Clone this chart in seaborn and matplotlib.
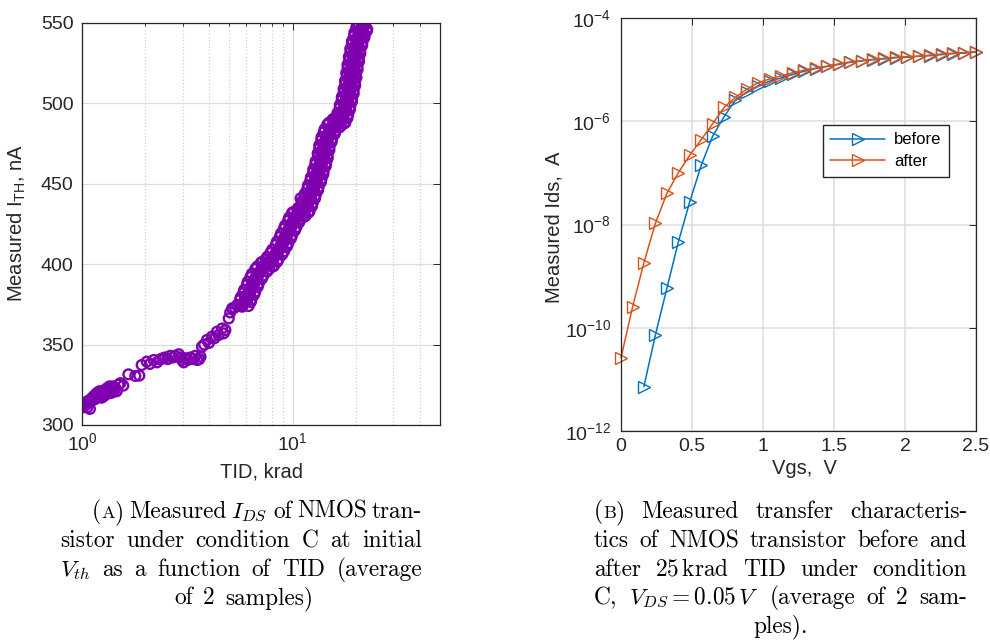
import numpy as np
import pandas as pd
import matplotlib
matplotlib.use("Agg")
import matplotlib.pyplot as plt
from matplotlib.ticker import FixedLocator, NullLocator, NullFormatter, FuncFormatter
from matplotlib.transforms import IdentityTransform
import seaborn as sns

# ---------------- data: panel (A) ----------------
tid_krad = [
    # low-dose cluster
    1.00, 1.01, 1.02, 1.03, 1.04, 1.05, 1.06, 1.07, 1.08, 1.09, 1.10, 1.11, 1.12, 1.13, 1.14,
    1.15, 1.16, 1.17, 1.18, 1.19, 1.20, 1.21, 1.22, 1.23, 1.24, 1.25, 1.26, 1.27, 1.28, 1.29,
    1.30, 1.31, 1.32, 1.33, 1.34, 1.35, 1.36, 1.37, 1.38, 1.39, 1.40, 1.42, 1.44, 1.46,
    # sparse part
    1.49, 1.52, 1.57, 1.66, 1.79, 1.87, 1.92, 2.03, 2.10, 2.19, 2.27, 2.35, 2.42, 2.48, 2.55,
    2.62, 2.70, 2.77, 2.88, 2.93, 2.98, 3.04, 3.09, 3.18, 3.27, 3.36, 3.45, 3.52, 3.60, 3.65,
    3.71, 3.80, 3.92, 4.00, 4.14, 4.25, 4.37, 4.45, 4.62, 4.70, 4.79, 4.97, 5.05, 5.16, 5.30,
    5.45, 5.60, 5.76, 10.90, 11.00,
    # dense part (main rows)
    5.63, 5.77, 5.90, 6.03, 6.17,
    5.83, 5.97, 6.10, 6.23, 6.37,
    6.06, 6.21, 6.35, 6.49, 6.64,
    6.30, 6.45, 6.60, 6.75, 6.90,
    6.64, 6.80, 6.95, 7.10, 7.26,
    7.07, 7.24, 7.40, 7.56, 7.73,
    7.45, 7.63, 7.80, 7.97, 8.15,
    7.83, 8.02, 8.20, 8.38, 8.57,
    8.31, 8.51, 8.70, 8.89, 9.09,
    8.69, 8.90, 9.10, 9.30, 9.51,
    9.07, 9.29, 9.50, 9.71, 9.93,
    9.50, 9.73, 9.95, 10.17, 10.40,
    9.93, 10.17, 10.40, 10.63, 10.87,
    10.51, 10.76, 11.00, 11.24, 11.50,
    10.98, 11.25, 11.50, 11.75, 12.02,
    11.36, 11.64, 11.90, 12.16, 12.44,
    11.75, 12.03, 12.30, 12.57, 12.85,
    12.13, 12.42, 12.70, 12.98, 13.27,
    12.51, 12.81, 13.10, 13.39, 13.69,
    12.80, 13.11, 13.40, 13.69, 14.00,
    13.18, 13.50, 13.80, 14.10, 14.42,
    13.37, 13.69, 14.00, 14.31, 14.63,
    13.66, 13.99, 14.30, 14.61, 14.94,
    14.04, 14.38, 14.70, 15.02, 15.36,
    14.61, 14.96, 15.30, 15.64, 15.99,
    15.47, 15.84, 16.20, 16.56, 16.93,
    16.24, 16.63, 17.00, 17.37, 17.77,
    16.71, 17.12, 17.50, 17.89, 18.29,
    17.09, 17.51, 17.90, 18.29, 18.71,
    17.48, 17.90, 18.30, 18.70, 19.12,
    17.76, 18.19, 18.60, 19.01, 19.44,
    18.05, 18.48, 18.90, 19.32, 19.75,
    18.24, 18.68, 19.10, 19.52, 19.96,
    18.53, 18.97, 19.40, 19.83, 20.27,
    18.81, 19.27, 19.70, 20.13, 20.59,
    19.10, 19.56, 20.00, 20.44, 20.90,
    19.58, 20.05, 20.50, 20.95, 21.42,
    20.06, 20.54, 21.00, 21.46, 21.95,
    20.63, 21.12, 21.60, 22.08, 22.57,
    # dense part (in-between rows)
    5.67, 5.91, 6.09, 6.33,
    5.88, 6.13, 6.31, 6.56,
    6.11, 6.37, 6.57, 6.83,
    6.40, 6.67, 6.87, 7.14,
    6.78, 7.06, 7.28, 7.56,
    7.18, 7.49, 7.71, 8.02,
    7.56, 7.88, 8.12, 8.44,
    7.99, 8.32, 8.58, 8.91,
    8.41, 8.77, 9.03, 9.39,
    8.79, 9.16, 9.44, 9.81,
    9.19, 9.57, 9.87, 10.25,
    9.61, 10.02, 10.32, 10.73,
    10.11, 10.54, 10.86, 11.29,
    10.63, 11.08, 11.42, 11.87,
    11.06, 11.52, 11.88, 12.34,
    11.43, 11.92, 12.28, 12.77,
    11.81, 12.31, 12.69, 13.19,
    12.19, 12.71, 13.09, 13.61,
    12.52, 13.05, 13.45, 13.98,
    12.85, 13.40, 13.80, 14.35,
    13.14, 13.69, 14.11, 14.66,
    13.37, 13.94, 14.36, 14.93,
    13.70, 14.28, 14.72, 15.30,
    14.18, 14.78, 15.23, 15.83,
    14.88, 15.51, 15.99, 16.62,
    15.69, 16.35, 16.85, 17.51,
    16.30, 16.99, 17.51, 18.20,
    16.73, 17.43, 17.97, 18.67,
    17.10, 17.83, 18.37, 19.10,
    17.44, 18.17, 18.73, 19.46,
    17.72, 18.47, 19.03, 19.78,
    17.96, 18.72, 19.29, 20.05,
    18.19, 18.96, 19.54, 20.31,
    18.47, 19.26, 19.84, 20.63,
    18.76, 19.55, 20.15, 20.94,
    19.14, 19.95, 20.55, 21.36,
    19.61, 20.44, 21.06, 21.89,
    20.13, 20.98, 21.62, 22.47,
]
ith_na = [
    312, 311, 313, 312, 314, 313, 311, 315, 314, 310, 316, 315, 317, 316, 318,
    316, 319, 317, 320, 318, 319, 321, 318, 320, 317, 319, 321, 318, 320, 322,
    319, 321, 323, 320, 322, 324, 321, 323, 320, 322, 324, 321, 323, 321,
    325, 326, 324.5, 331.5, 330.5, 330.7, 337.3, 339.4, 338, 340.4, 339, 340.8, 341.5, 342, 341,
    343, 342, 343, 344, 342, 340.4, 339, 341.5, 340.5, 342, 341, 343, 340.4, 341, 342.5,
    348.7, 350, 352.9, 351, 355, 354, 358, 356, 360, 357, 359, 366.3, 370, 372.5, 373,
    374.6, 374, 373.6, 441, 437,
    378, 375, 376, 377, 374,
    382, 379, 380, 381, 378,
    387, 384, 385, 386, 383,
    392, 389, 390, 391, 388,
    397, 394, 395, 396, 393,
    401, 398, 399, 400, 397,
    403, 400, 401, 402, 399,
    407, 404, 405, 406, 403,
    412, 409, 410, 411, 408,
    417, 414, 415, 416, 413,
    422, 419, 420, 421, 418,
    427, 424, 425, 426, 423,
    432, 429, 430, 431, 428,
    434, 431, 432, 433, 430,
    437, 434, 435, 436, 433,
    442, 439, 440, 441, 438,
    447, 444, 445, 446, 443,
    452, 449, 450, 451, 448,
    457, 454, 455, 456, 453,
    462, 459, 460, 461, 458,
    467, 464, 465, 466, 463,
    472, 469, 470, 471, 468,
    477, 474, 475, 476, 473,
    482, 479, 480, 481, 478,
    487, 484, 485, 486, 483,
    490, 487, 488, 489, 486,
    492, 489, 490, 491, 488,
    497, 494, 495, 496, 493,
    502, 499, 500, 501, 498,
    507, 504, 505, 506, 503,
    512, 509, 510, 511, 508,
    517, 514, 515, 516, 513,
    522, 519, 520, 521, 518,
    527, 524, 525, 526, 523,
    532, 529, 530, 531, 528,
    537, 534, 535, 536, 533,
    542, 539, 540, 541, 538,
    547, 544, 545, 546, 543,
    549, 547, 548, 549, 546,
    379.5, 377.5, 378.5, 376.5,
    384, 382, 383, 381,
    389, 387, 388, 386,
    394, 392, 393, 391,
    398.5, 396.5, 397.5, 395.5,
    401.5, 399.5, 400.5, 398.5,
    404.5, 402.5, 403.5, 401.5,
    409, 407, 408, 406,
    414, 412, 413, 411,
    419, 417, 418, 416,
    424, 422, 423, 421,
    429, 427, 428, 426,
    432.5, 430.5, 431.5, 429.5,
    435, 433, 434, 432,
    439, 437, 438, 436,
    444, 442, 443, 441,
    449, 447, 448, 446,
    454, 452, 453, 451,
    459, 457, 458, 456,
    464, 462, 463, 461,
    469, 467, 468, 466,
    474, 472, 473, 471,
    479, 477, 478, 476,
    484, 482, 483, 481,
    488, 486, 487, 485,
    490.5, 488.5, 489.5, 487.5,
    494, 492, 493, 491,
    499, 497, 498, 496,
    504, 502, 503, 501,
    509, 507, 508, 506,
    514, 512, 513, 511,
    519, 517, 518, 516,
    524, 522, 523, 521,
    529, 527, 528, 526,
    534, 532, 533, 531,
    539, 537, 538, 536,
    544, 542, 543, 541,
    548, 546, 547, 545,
]
a_yticks = [300, 350, 400, 450, 500, 550]
a_xmajor = [1, 10]
a_xminor = [2, 3, 4, 5, 6, 7, 8, 9, 20, 30, 40]

# ---------------- data: panel (B) ----------------
vgs_after = [0.000, 0.081, 0.161, 0.242, 0.323, 0.403, 0.484, 0.565, 0.645, 0.726, 0.806,
             0.887, 0.968, 1.048, 1.129, 1.210, 1.290, 1.371, 1.452, 1.532, 1.613, 1.694,
             1.774, 1.855, 1.935, 2.016, 2.097, 2.177, 2.258, 2.339, 2.419, 2.500]
ids_after = [2.6e-11, 2.5e-10, 1.8e-9, 1.05e-8, 4.0e-8, 1.0e-7, 2.2e-7, 4.4e-7, 8.9e-7, 1.86e-6,
             2.9e-6, 4.2e-6, 5.6e-6, 6.6e-6, 7.6e-6, 8.7e-6, 9.8e-6, 1.07e-5, 1.17e-5, 1.29e-5,
             1.41e-5, 1.48e-5, 1.58e-5, 1.66e-5, 1.74e-5, 1.78e-5, 1.82e-5, 1.91e-5, 2.0e-5,
             2.09e-5, 2.14e-5, 2.24e-5]
vgs_before = [0.161, 0.242, 0.323, 0.403, 0.484, 0.565, 0.645, 0.726, 0.806,
              0.887, 0.968, 1.048, 1.129, 1.210, 1.290, 1.371, 1.452, 1.532, 1.613, 1.694,
              1.774, 1.855, 1.935, 2.016, 2.097, 2.177, 2.258, 2.339, 2.419, 2.500]
ids_before = [7.2e-12, 7.2e-11, 5.8e-10, 4.5e-9, 2.75e-8, 1.4e-7, 5.1e-7, 1.23e-6, 2.57e-6,
              3.7e-6, 4.9e-6, 6.0e-6, 6.9e-6, 8.1e-6, 9.3e-6, 1.05e-5, 1.15e-5, 1.26e-5,
              1.38e-5, 1.48e-5, 1.55e-5, 1.62e-5, 1.70e-5, 1.74e-5, 1.82e-5, 1.86e-5,
              1.95e-5, 2.04e-5, 2.09e-5, 2.19e-5]
series_labels = ["before", "after"]
b_xticks = [0, 0.5, 1, 1.5, 2, 2.5]
b_yticks = [1e-12, 1e-10, 1e-8, 1e-6, 1e-4]

# ---------------- style ----------------
sns.set_theme(style="white")
plt.rcParams["font.family"] = ["Liberation Sans", "DejaVu Sans"]
plt.rcParams["mathtext.fontset"] = "custom"
plt.rcParams["mathtext.rm"] = "Liberation Sans"
plt.rcParams["mathtext.it"] = "Liberation Sans:italic"
plt.rcParams["mathtext.bf"] = "Liberation Sans:bold"

INK = "#262626"
GRID = "#dcdcdc"
PURPLE = "#7E00AF"
BLUE = "#0072BD"
ORANGE = "#D95319"

W, H = 990, 642
fig = plt.figure(figsize=(W / 100, H / 100), dpi=100)
fig.patch.set_facecolor("white")


def px_axes(x0, y0, x1, y1):
    return fig.add_axes([x0 / W, 1 - y1 / H, (x1 - x0) / W, (y1 - y0) / H])


def style(ax):
    ax.set_facecolor("white")
    for sp in ax.spines.values():
        sp.set_visible(True)
        sp.set_color(INK)
        sp.set_linewidth(0.9)
    ax.tick_params(which="both", direction="in", top=True, right=True,
                   color=INK, labelcolor=INK, labelsize=14, width=0.7)
    ax.tick_params(which="major", length=5)
    ax.tick_params(which="minor", length=2.5)
    ax.set_axisbelow(True)


ax1 = px_axes(82, 23, 440, 425)
ax2 = px_axes(621, 18, 976, 431)

# ---- panel A ----
ax1.set_xscale("log")
df_a = pd.DataFrame({"TID": tid_krad, "ITH": ith_na})
sns.scatterplot(data=df_a, x="TID", y="ITH", ax=ax1, color=PURPLE, s=50,
                linewidth=1.0, legend=False)
coll = ax1.collections[0]
coll.set_facecolor("none")
coll.set_edgecolor(PURPLE)
coll.set_linewidth(1.7)
ax1.set_xlim(1, 50)
ax1.set_ylim(300, 550)
ax1.xaxis.set_major_locator(FixedLocator(a_xmajor))
ax1.xaxis.set_minor_locator(FixedLocator(a_xminor))
ax1.xaxis.set_minor_formatter(NullFormatter())
ax1.yaxis.set_major_locator(FixedLocator(a_yticks))
ax1.yaxis.set_minor_locator(NullLocator())
style(ax1)
ax1.tick_params(axis="y", pad=6)
ax1.tick_params(axis="x", pad=5)
ax1.grid(True, which="major", color=GRID, linewidth=0.9)
ax1.grid(True, which="minor", axis="x", color="#cfcfcf", linestyle=":", linewidth=0.9)
ax1.set_xlabel("TID, krad", fontsize=14.5, color=INK)
ax1.set_ylabel(r"Measured I$_{\mathrm{TH}}$, nA", fontsize=14.5, color=INK)
ax1.xaxis.set_label_coords(0.5, -0.094)
ax1.yaxis.set_label_coords(-0.151, 0.502)

# ---- panel B ----
ax2.set_yscale("log")
df_b = pd.DataFrame({"Vgs": vgs_before, "Ids": ids_before})
df_c = pd.DataFrame({"Vgs": vgs_after, "Ids": ids_after})
for df, col, lab in ((df_b, BLUE, series_labels[0]), (df_c, ORANGE, series_labels[1])):
    sns.lineplot(data=df, x="Vgs", y="Ids", ax=ax2, color=col, linewidth=1.1,
                 marker=">", markersize=9, markerfacecolor="none",
                 markeredgecolor=col, markeredgewidth=1.0, label=lab,
                 estimator=None, errorbar=None, clip_on=False)
ax2.set_xlim(0, 2.5)
ax2.set_ylim(1e-12, 1e-4)
ax2.xaxis.set_major_locator(FixedLocator(b_xticks))
ax2.xaxis.set_major_formatter(FuncFormatter(lambda v, p: f"{v:g}"))
ax2.xaxis.set_minor_locator(NullLocator())
ax2.yaxis.set_major_locator(FixedLocator(b_yticks))
ax2.yaxis.set_minor_locator(NullLocator())
style(ax2)
ax2.tick_params(axis="y", pad=7)
ax2.tick_params(axis="x", pad=5)
ax2.grid(True, which="major", color=GRID, linewidth=1.1)
ax2.set_xlabel("Vgs,  V", fontsize=14.5, color=INK)
ax2.set_ylabel("Measured Ids,  A", fontsize=14.5, color=INK)
ax2.xaxis.set_label_coords(0.518, -0.068)
ax2.yaxis.set_label_coords(-0.161, 0.494)
leg = ax2.legend(loc="upper left", bbox_to_anchor=(0.569, 0.741), borderaxespad=0,
                 frameon=True, fancybox=False, edgecolor=INK, fontsize=12,
                 handlelength=3.3, handletextpad=0.5, borderpad=0.45, labelspacing=0.4)
leg.get_frame().set_linewidth(1.0)
leg.get_frame().set_facecolor("white")
leg.get_frame().set_alpha(1.0)
for t in leg.get_texts():
    t.set_color("black")

# ---------------- captions (justified, LaTeX-like) ----------------
fig.canvas.draw()
renderer = fig.canvas.get_renderer()
FS = 16.8


def make_piece(s, size):
    return fig.text(0, 0, s, fontsize=size, color="black", fontfamily="cmr10",
                    math_fontfamily="cm", transform=IdentityTransform(),
                    va="baseline", ha="left")


def Wd(s):
    return [(s, FS)]


def words(line):
    return [Wd(w) for w in line.split()]


def place_line(ws, y_img, x0=None, x1=None, center=None):
    y = H - y_img
    objs = []
    for w in ws:
        pieces = [make_piece(s, sz) for s, sz in w]
        wid = [p.get_window_extent(renderer).width for p in pieces]
        objs.append((pieces, wid))
    total = sum(sum(wid) for _, wid in objs)
    space = FS * 100 / 72 * 0.333
    if center is not None or len(objs) < 2:
        gap = space
        x = center - (total + gap * (len(objs) - 1)) / 2
    else:
        gap = (x1 - x0 - total) / (len(objs) - 1)
        min_gap = 0.6 * space
        if gap < min_gap:
            gap = min_gap
            x0 = x1 - total - gap * (len(objs) - 1)
        x = x0
    for pieces, wid in objs:
        for p, wdt in zip(pieces, wid):
            p.set_position((x, y))
            x += wdt
        x += gap


lab_a = [("(", FS), ("A", FS * 0.78), (")", FS)]
lab_b = [("(", FS), ("B", FS * 0.78), (")", FS)]
base = [518, 547, 576, 604, 632]

place_line([lab_a, Wd("Measured"), Wd(r"$I_{DS}$"), Wd("of"), Wd("NMOS"), Wd("tran-")],
           base[0], 92, 422)
place_line(words("sistor under condition C at initial"), base[1], 60, 422)
place_line([Wd(r"$V_{th}$")] + words("as a function of TID (average"), base[2], 60, 422)
place_line(words("of 2 samples)"), base[3], 174, 313)

place_line([lab_b] + words("Measured transfer characteris-"), base[0], 594, 967)
place_line(words("tics of NMOS transistor before and"), base[1], 594, 967)
place_line([Wd("after"), Wd(r"$25\,\mathrm{krad}$")] + words("TID under condition"),
           base[2], 594, 967)
place_line([Wd("C,"), Wd(r"$V_{DS}=0.05\,V$")] + words("(average of 2 sam-"),
           base[3], 594, 967)
place_line(words("ples)."), base[4], center=781)

fig.savefig("out.png", dpi=100, facecolor="white")
